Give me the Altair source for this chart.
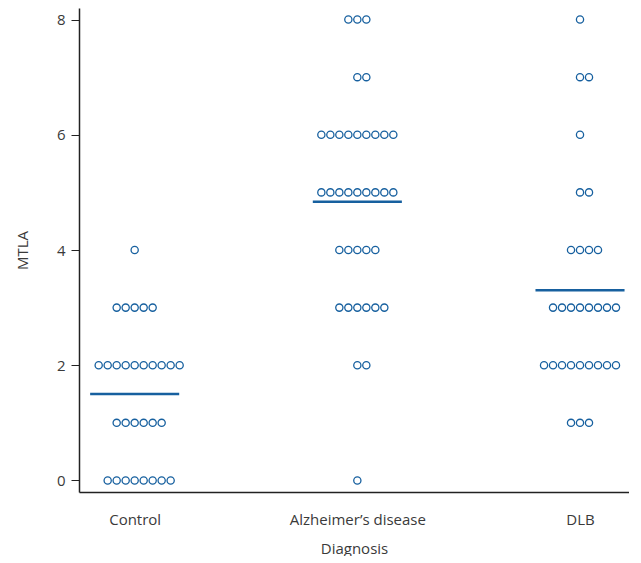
import altair as alt
import pandas as pd

groups = ["Control", "Alzheimer’s disease", "DLB"]
scores = [0, 1, 2, 3, 4, 5, 6, 7, 8]
control_counts = [8, 6, 10, 5, 1, 0, 0, 0, 0]
ad_counts = [1, 0, 2, 6, 5, 9, 9, 2, 3]
dlb_counts = [0, 3, 9, 8, 4, 2, 1, 2, 1]

spacing = 0.0404
rows = []
for gi, (g, counts) in enumerate(zip(groups, [control_counts, ad_counts, dlb_counts])):
    for s, n in zip(scores, counts):
        for i in range(n):
            off = i - (n - 1) // 2
            rows.append({"group": g, "gi": gi, "x": gi + off * spacing, "MTLA": s})
df = pd.DataFrame(rows)

blue = "#17609f"
xscale = alt.Scale(domain=[-0.25, 2.22], nice=False, zero=False)
yscale = alt.Scale(domain=[-0.2, 8.2], nice=False, zero=False)
label_expr = "datum.value == 0 ? 'Control' : datum.value == 1 ? 'Alzheimer’s disease' : datum.value == 2 ? 'DLB' : ''"

points = alt.Chart(df).mark_point(shape="circle", filled=False, size=52, strokeWidth=1.3, color=blue, opacity=1).encode(
    x=alt.X("x:Q", scale=xscale, title="Diagnosis",
            axis=alt.Axis(values=[0, 1, 2], labelExpr=label_expr, ticks=False, grid=False,
                          labelPadding=20, titlePadding=14)),
    y=alt.Y("MTLA:Q", scale=yscale, title="MTLA",
            axis=alt.Axis(values=[0, 2, 4, 6, 8], format="d", tickSize=8, grid=False,
                          labelPadding=6, titlePadding=26)),
)

means = alt.Chart(df).transform_aggregate(
    m="mean(MTLA)", groupby=["gi"]
).transform_calculate(
    x1="datum.gi - 0.2", x2="datum.gi + 0.2"
).mark_rule(color=blue, strokeWidth=2.5).encode(
    x=alt.X("x1:Q", scale=xscale),
    x2="x2:Q",
    y=alt.Y("m:Q", scale=yscale),
)

chart = alt.layer(points, means).properties(
    width=550, height=484, padding={"left": 7, "top": 0, "right": 0, "bottom": 0}
).configure_view(stroke=None).configure_axis(
    domainColor="#222", domainWidth=1.5, tickColor="#222", labelColor="#3a3a3a", titleColor="#3a3a3a",
    labelFont="Open Sans", titleFont="Open Sans", labelFontSize=15, titleFontSize=15,
    titleFontWeight="normal"
)

chart.save("out.html", embed_options={"renderer": "svg", "actions": False})
